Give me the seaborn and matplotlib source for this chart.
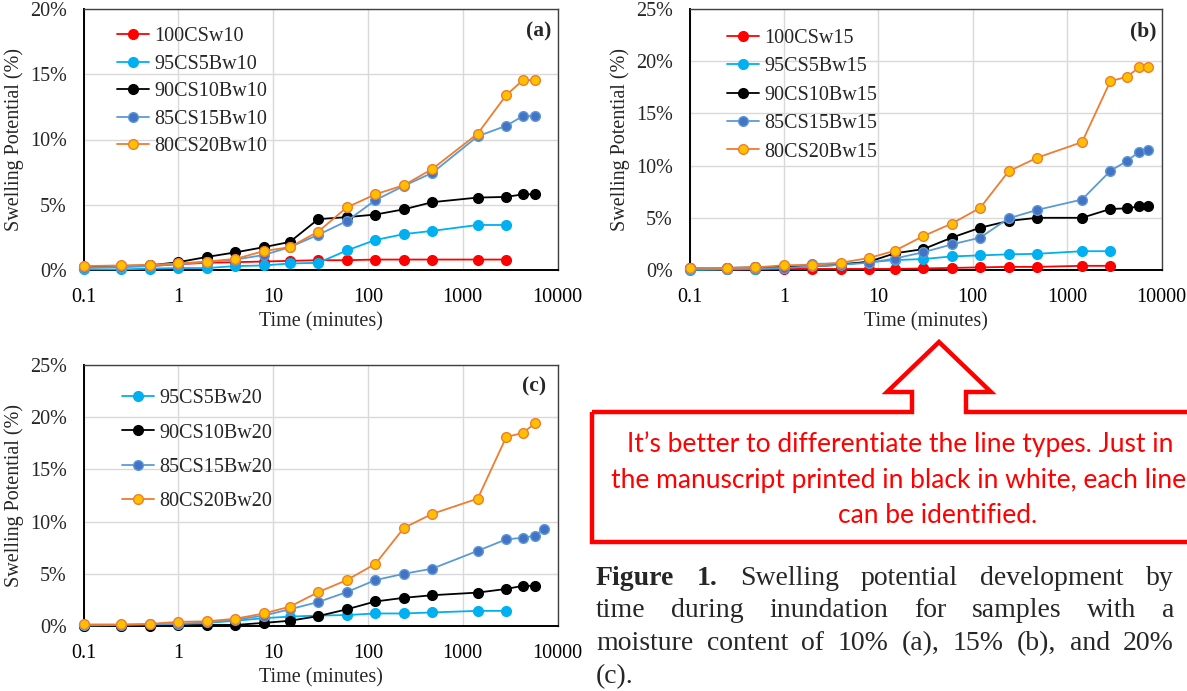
import numpy as np
import pandas as pd
import matplotlib
matplotlib.use("Agg")
import matplotlib.pyplot as plt
import seaborn as sns
from matplotlib.ticker import FixedLocator, LogLocator, FuncFormatter, NullFormatter
from matplotlib.patches import Polygon

# ---------------- data (swelling potential, %) ----------------
time_a = [0.1, 0.25, 0.5, 1, 2, 4, 8, 15, 30, 60, 120, 240, 480, 1440, 2880, 4320, 5760]
time_b = [0.1, 0.25, 0.5, 1, 2, 4, 8, 15, 30, 60, 120, 240, 480, 1440, 2880, 4320, 5760, 7200]
time_c = time_b

a_100CSw10 = [0.2, 0.25, 0.3, 0.45, 0.55, 0.6, 0.65, 0.7, 0.75, 0.75, 0.8, 0.8, 0.8, 0.8, 0.8]
a_95CS5Bw10 = [0.05, 0.05, 0.1, 0.15, 0.15, 0.3, 0.35, 0.5, 0.55, 1.5, 2.3, 2.75, 3.0, 3.45, 3.45]
a_90CS10Bw10 = [0.2, 0.3, 0.35, 0.6, 1.0, 1.35, 1.75, 2.15, 3.9, 4.05, 4.25, 4.65, 5.2, 5.55, 5.6, 5.8, 5.8]
a_85CS15Bw10 = [0.15, 0.25, 0.3, 0.45, 0.6, 0.8, 1.15, 1.75, 2.7, 3.75, 5.35, 6.45, 7.45, 10.25, 11.05, 11.8, 11.8]
a_80CS20Bw10 = [0.3, 0.35, 0.4, 0.5, 0.65, 0.85, 1.45, 1.75, 2.95, 4.8, 5.8, 6.5, 7.75, 10.45, 13.4, 14.55, 14.55]

b_100CSw15 = [0.05, 0.05, 0.05, 0.1, 0.1, 0.1, 0.1, 0.1, 0.15, 0.2, 0.25, 0.3, 0.3, 0.4, 0.4]
b_95CS5Bw15 = [0.0, 0.05, 0.1, 0.2, 0.6, 0.6, 0.75, 0.95, 1.05, 1.3, 1.4, 1.5, 1.55, 1.8, 1.8]
b_90CS10Bw15 = [0.2, 0.2, 0.25, 0.3, 0.35, 0.5, 0.8, 1.6, 2.0, 3.1, 4.05, 4.7, 5.0, 5.0, 5.85, 5.9, 6.1, 6.1]
b_85CS15Bw15 = [0.1, 0.1, 0.15, 0.2, 0.35, 0.5, 0.7, 1.1, 1.7, 2.45, 3.1, 4.95, 5.75, 6.75, 9.5, 10.45, 11.3, 11.45]
b_80CS20Bw15 = [0.2, 0.2, 0.25, 0.45, 0.5, 0.7, 1.15, 1.85, 3.25, 4.45, 5.95, 9.45, 10.75, 12.25, 18.1, 18.5, 19.4, 19.4]

c_95CS5Bw20 = [0.0, 0.0, 0.05, 0.15, 0.3, 0.5, 0.75, 0.9, 1.0, 1.05, 1.2, 1.2, 1.3, 1.45, 1.45]
c_90CS10Bw20 = [0.0, 0.0, 0.0, 0.05, 0.1, 0.1, 0.3, 0.5, 0.95, 1.6, 2.35, 2.7, 2.95, 3.2, 3.55, 3.85, 3.85]
c_85CS15Bw20 = [0.05, 0.1, 0.15, 0.2, 0.35, 0.6, 1.0, 1.6, 2.3, 3.25, 4.4, 5.0, 5.5, 7.2, 8.3, 8.45, 8.65, 9.3]
c_80CS20Bw20 = [0.15, 0.15, 0.2, 0.4, 0.45, 0.7, 1.2, 1.85, 3.25, 4.4, 5.95, 9.4, 10.75, 12.2, 18.1, 18.5, 19.4]

x_tick_labels = ["0.1", "1", "10", "100", "1000", "10000"]
x_ticks = [0.1, 1, 10, 100, 1000, 10000]

# ---------------- style ----------------
sns.set_style("white")
plt.rcParams["font.family"] = ["Liberation Serif", "DejaVu Serif"]
plt.rcParams["mathtext.fontset"] = "stix"

STYLE = {
    "100CS": dict(color="#FF0000", mfc="#FF0000", mec="#FF0000"),
    "95CS5B": dict(color="#00B0F0", mfc="#00B0F0", mec="#00B0F0"),
    "90CS10B": dict(color="#000000", mfc="#000000", mec="#000000"),
    "85CS15B": dict(color="#5B9BD5", mfc="#4472C4", mec="#5B9BD5"),
    "80CS20B": dict(color="#ED7D31", mfc="#FFC000", mec="#ED7D31"),
}

W, H = 1187, 691
fig = plt.figure(figsize=(W / 100, H / 100), dpi=100)


def rect(l, r, t, b):
    return [l / W, 1 - b / H, (r - l) / W, (b - t) / H]


def draw_panel(ax, times, series, ymax, tag, tag_xy, leg_anchor, leg_spacing):
    for name, key, vals in series:
        st = STYLE[key]
        df = pd.DataFrame({"t": times[:len(vals)], "v": vals})
        sns.lineplot(data=df, x="t", y="v", ax=ax, color=st["color"], linewidth=1.3,
                     marker="o", markersize=7, markerfacecolor=st["mfc"],
                     markeredgecolor=st["mec"], markeredgewidth=1.0, label=name,
                     clip_on=False, zorder=3)
    ax.set_xscale("log")
    ax.set_xlim(0.1, 10000)
    ax.set_ylim(0, ymax)
    ax.xaxis.set_major_locator(FixedLocator(x_ticks))
    ax.xaxis.set_major_formatter(FuncFormatter(lambda v, p: x_tick_labels[x_ticks.index(v)] if v in x_ticks else ""))
    ax.xaxis.set_minor_locator(LogLocator(base=10, subs=np.arange(2, 10), numticks=20))
    ax.xaxis.set_minor_formatter(NullFormatter())
    ax.yaxis.set_major_locator(FixedLocator(np.arange(0, ymax + 0.1, 5)))
    ax.yaxis.set_minor_locator(FixedLocator(np.arange(0, ymax + 0.1, 1)))
    ax.yaxis.set_major_formatter(FuncFormatter(lambda v, p: f"{v:.0f}%"))
    ax.grid(True, which="major", color="#D9D9D9", linewidth=1.0, zorder=0)
    ax.set_axisbelow(True)
    ax.tick_params(axis="x", which="major", direction="inout", length=8, width=1.2,
                   labelsize=14.5, pad=9, colors="black")
    ax.tick_params(axis="x", which="minor", direction="in", length=4, width=1.0)
    ax.tick_params(axis="y", which="major", direction="in", length=4, width=1.0,
                   labelsize=14.5, pad=12)
    ax.tick_params(axis="y", which="minor", direction="in", length=3.5, width=1.0)
    for s in ["left", "bottom"]:
        ax.spines[s].set_color("black")
        ax.spines[s].set_linewidth(1.4)
    for s in ["top", "right"]:
        ax.spines[s].set_color("#404040")
        ax.spines[s].set_linewidth(1.0)
    ax.set_xlabel("Time (minutes)", fontsize=14.5, labelpad=4)
    ax.set_ylabel("Swelling Potential (%)", fontsize=14.5, labelpad=4)
    ax.text(tag_xy[0], tag_xy[1], tag, transform=ax.transAxes, ha="right", va="center",
            fontsize=15.5, fontweight="bold")
    ax.legend(loc="upper left", bbox_to_anchor=leg_anchor, frameon=False, fontsize=14.5,
              borderpad=0, borderaxespad=0, handlelength=1.6, handletextpad=0.25,
              labelspacing=leg_spacing)


# panel (a)
ax_a = fig.add_axes(rect(83.5, 557.5, 9, 270))
draw_panel(ax_a, time_a,
           [("100CSw10", "100CS", a_100CSw10), ("95CS5Bw10", "95CS5B", a_95CS5Bw10),
            ("90CS10Bw10", "90CS10B", a_90CS10Bw10), ("85CS15Bw10", "85CS15B", a_85CS15Bw10),
            ("80CS20Bw10", "80CS20B", a_80CS20Bw10)],
           20, "(a)", (0.988, 0.912), ((117 - 83.5) / 474, 1 - (27 - 9) / 261), 0.42)

# panel (b)
ax_b = fig.add_axes(rect(689.5, 1161.5, 9, 270))
draw_panel(ax_b, time_b,
           [("100CSw15", "100CS", b_100CSw15), ("95CS5Bw15", "95CS5B", b_95CS5Bw15),
            ("90CS10Bw15", "90CS10B", b_90CS10Bw15), ("85CS15Bw15", "85CS15B", b_85CS15Bw15),
            ("80CS20Bw15", "80CS20B", b_80CS20Bw15)],
           25, "(b)", (0.99, 0.912), ((727 - 689.5) / 472, 1 - (29 - 9) / 261), 0.46)

# panel (c)
ax_c = fig.add_axes(rect(83.5, 557.5, 365, 626))
draw_panel(ax_c, time_c,
           [("95CS5Bw20", "95CS5B", c_95CS5Bw20), ("90CS10Bw20", "90CS10B", c_90CS10Bw20),
            ("85CS15Bw20", "85CS15B", c_85CS15Bw20), ("80CS20Bw20", "80CS20B", c_80CS20Bw20)],
           25, "(c)", (0.975, 0.917), ((122 - 83.5) / 474, 1 - (389 - 365) / 261), 0.76)


# ---------------- red callout ----------------
def fx(x):
    return x / W


def fy(y):
    return 1 - y / H


tip_x, tip_y = 939, 342
head_y, box_top, box_bot, box_left, box_right = 392, 412, 542, 592, 1210
head_half, shaft_half = 52, 27
pts = [(box_left, box_top), (tip_x - shaft_half, box_top), (tip_x - shaft_half, head_y),
       (tip_x - head_half, head_y), (tip_x, tip_y), (tip_x + head_half, head_y),
       (tip_x + shaft_half, head_y), (tip_x + shaft_half, box_top), (box_right, box_top),
       (box_right, box_bot), (box_left, box_bot)]
poly = Polygon([(fx(x), fy(y)) for x, y in pts], closed=True, fill=False,
               edgecolor="#FF0000", linewidth=3.2, joinstyle="miter",
               transform=fig.transFigure)
fig.add_artist(poly)

cfont = ["Lato", "DejaVu Sans"]
cfs = 19
fig.text(fx(627), fy(452), "It\u2019s better to differentiate the line types. Just in",
         color="#FF0000", fontsize=cfs, family=cfont, ha="left", va="baseline")
fig.text(fx(611), fy(488), "the manuscript printed in black in white, each line",
         color="#FF0000", fontsize=cfs, family=cfont, ha="left", va="baseline")
fig.text(fx(938), fy(523), "can be identified.",
         color="#FF0000", fontsize=cfs, family=cfont, ha="center", va="baseline")

# ---------------- caption (justified) ----------------
renderer = fig.canvas.get_renderer()
cap_fs = 20
cap_left, cap_right = 596, 1174
caption_lines = [
    ([("Figure", "bold"), ("1.", "bold"), ("Swelling", "normal"), ("potential", "normal"),
      ("development", "normal"), ("by", "normal")], 585, True),
    ([(w, "normal") for w in "time during inundation for samples with a".split()], 617, True),
    ([(w, "normal") for w in "moisture content of 10% (a), 15% (b), and 20%".split()], 650, True),
    ([("(c).", "normal")], 683, False),
]
for words, base, justify in caption_lines:
    widths = []
    for w, wt in words:
        t = fig.text(0, 0, w, fontsize=cap_fs, fontweight=wt)
        widths.append(t.get_window_extent(renderer).width)
        t.remove()
    if justify and len(words) > 1:
        gap = (cap_right - cap_left - sum(widths)) / (len(words) - 1)
    else:
        gap = 5
    x = cap_left
    for (w, wt), wd in zip(words, widths):
        fig.text(fx(x), fy(base), w, fontsize=cap_fs, fontweight=wt, ha="left", va="baseline")
        x += wd + gap

fig.savefig("out.png", dpi=100)
